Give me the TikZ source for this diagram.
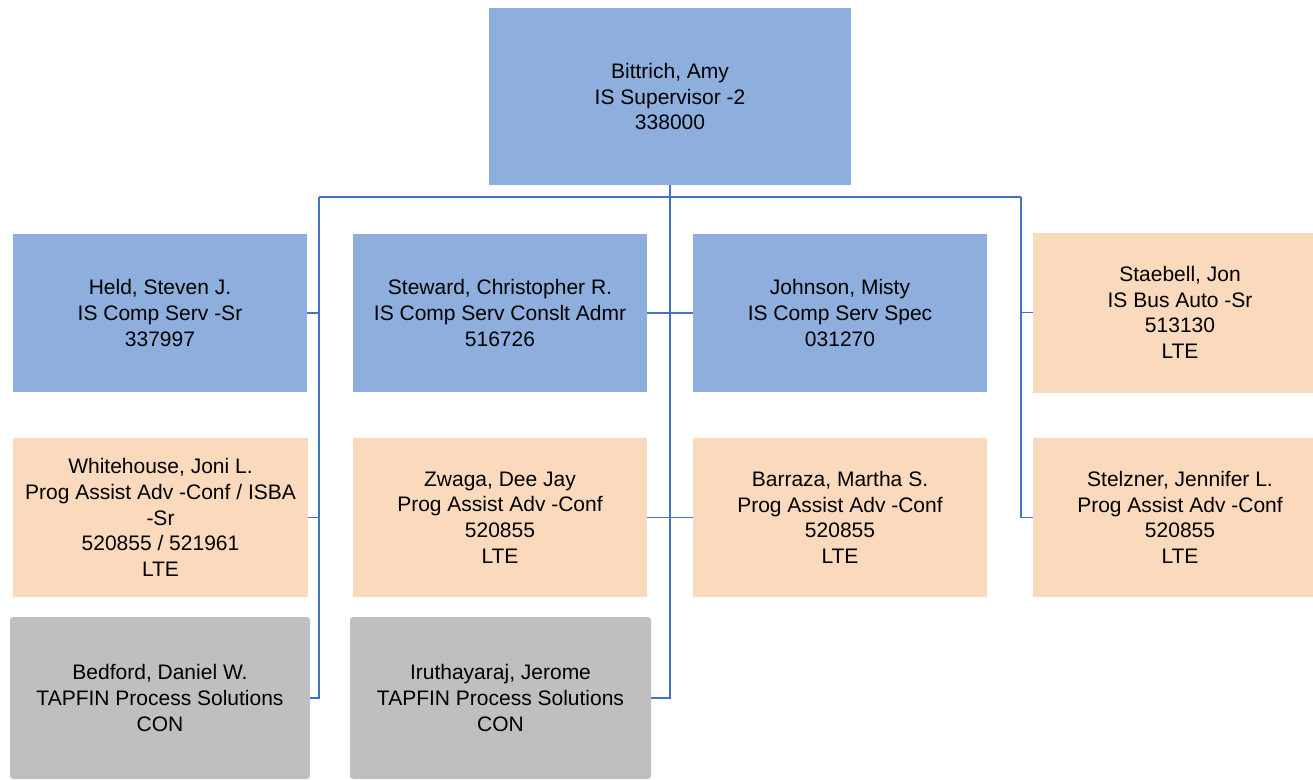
\documentclass[tikz,border=0pt]{standalone}
\usepackage{fontspec}
\setmainfont{Liberation Sans}
\definecolor{boxblue}{RGB}{142,174,221}
\definecolor{boxorange}{RGB}{250,217,188}
\definecolor{boxgray}{RGB}{191,191,191}
\definecolor{linkblue}{RGB}{68,114,196}
\begin{document}
\begin{tikzpicture}[x=1pt,y=-1pt,
  person/.style={rectangle, inner sep=0pt, align=center, text=black,
    font=\fontsize{21}{25.7}\selectfont, minimum width=294pt, minimum height=158pt},
  blue/.style={person, fill=boxblue},
  orange/.style={person, fill=boxorange},
  gray/.style={person, fill=boxgray, rounded corners=3pt, minimum width=300pt, minimum height=162pt},
  conn/.style={draw=linkblue, line width=1.8pt}]
\useasboundingbox (0,0) rectangle (1313,779);
\node[blue, minimum width=362pt, minimum height=177pt] (top) at (670,96.5) {Bittrich, Amy\\IS Supervisor -2\\338000};
\node[blue] (held) at (160,313) {Held, Steven J.\\IS Comp Serv -Sr\\337997};
\node[blue] (steward) at (500,313) {Steward, Christopher R.\\IS Comp Serv Conslt Admr\\516726};
\node[blue] (johnson) at (840,313) {Johnson, Misty\\IS Comp Serv Spec\\031270};
\node[orange, minimum height=160pt] (staebell) at (1180,312.5) {Staebell, Jon\\IS Bus Auto -Sr\\513130\\LTE};
\node[orange, minimum width=295pt, minimum height=159pt] (whitehouse) at (160.5,517.5) {Whitehouse, Joni L.\\Prog Assist Adv -Conf / ISBA\\-Sr\\520855 / 521961\\LTE};
\node[orange, minimum height=159pt] (zwaga) at (500,517.5) {Zwaga, Dee Jay\\Prog Assist Adv -Conf\\520855\\LTE};
\node[orange, minimum height=159pt] (barraza) at (840,517.5) {Barraza, Martha S.\\Prog Assist Adv -Conf\\520855\\LTE};
\node[orange, minimum height=159pt] (stelzner) at (1180,517.5) {Stelzner, Jennifer L.\\Prog Assist Adv -Conf\\520855\\LTE};
\node[gray] (bedford) at (160,698) {Bedford, Daniel W.\\TAPFIN Process Solutions\\CON};
\node[gray, minimum width=301pt] (iruth) at (500.5,698) {Iruthayaraj, Jerome\\TAPFIN Process Solutions\\CON};
\coordinate (busL) at (319,197);
\coordinate (busR) at (1021,197);
\draw[conn] (busL) -- (busR);
\draw[conn] (top.south) -- (top.south |- iruth.east) -- (iruth.east);
\draw[conn] (busL) |- (bedford.east);
\draw[conn] (held.east) -- (held.east -| busL);
\draw[conn] (whitehouse.east) -- (whitehouse.east -| busL);
\draw[conn] (steward.east) -- (johnson.west);
\draw[conn] (zwaga.east) -- (barraza.west);
\draw[conn] (busR) |- (stelzner.west);
\draw[conn] (staebell.west) -- (staebell.west -| busR);
\end{tikzpicture}
\end{document}
